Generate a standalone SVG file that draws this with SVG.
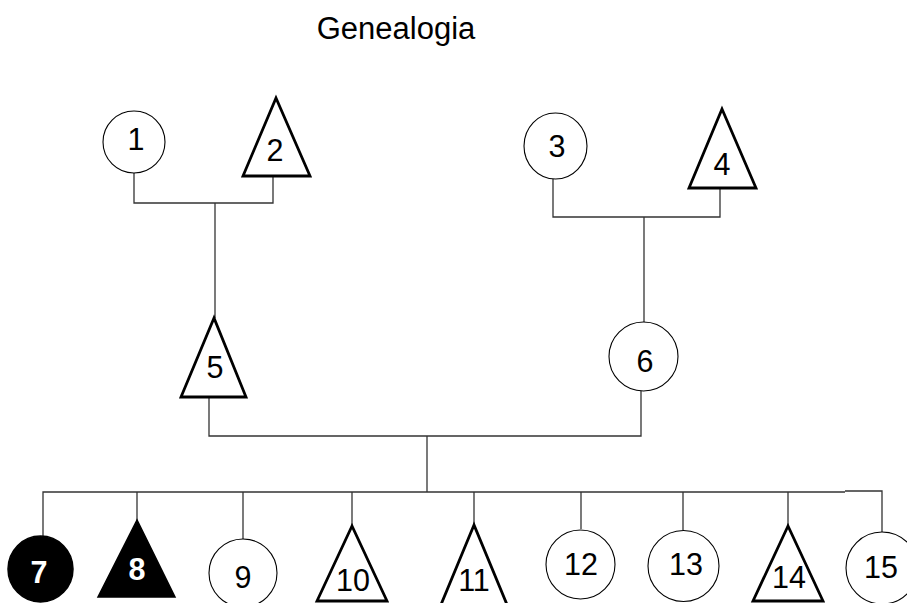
<svg xmlns="http://www.w3.org/2000/svg" width="907" height="603" viewBox="0 0 907 603">
<style>
.c{fill:#fff;stroke:#000;stroke-width:1.1}
.t{fill:#fff;stroke:#000;stroke-width:2.8;stroke-linejoin:miter}
.f{fill:#000;stroke:#000;stroke-width:1.5}
.lbl{font-family:"Liberation Sans",Arial,sans-serif;font-size:30.5px;fill:#000;text-anchor:middle}
.w{fill:#fff;font-weight:bold}
.conn path{fill:none;stroke:#333;stroke-width:1.3}
</style>
<rect width="907" height="603" fill="#fff"/>
<text x="396" y="39" class="lbl" style="font-size:31px">Genealogia</text>
<g class="conn">
<path d="M134,173 V203 H273 V176"/>
<path d="M215,203 V318"/>
<path d="M553,179 V217 H720 V188"/>
<path d="M644,217 V322"/>
<path d="M209,397 V436 H641 V391"/>
<path d="M427,436 V492"/>
<path d="M43,536 V492 H845"/>
<path d="M845,491 H882 V532"/>
<path d="M137,492 V520"/>
<path d="M243,492 V539"/>
<path d="M352,492 V526"/>
<path d="M474,492 V525"/>
<path d="M581,492 V529"/>
<path d="M683,492 V530"/>
<path d="M788,492 V526"/>
</g>
<g id="n1"><circle class="c" cx="134" cy="142" r="31"/><text class="lbl" x="136" y="150">1</text></g>
<g id="n2"><polygon class="t" points="276,98 243,176 310,176"/><text class="lbl" x="275" y="161">2</text></g>
<g id="n3"><ellipse class="c" cx="555.5" cy="146" rx="31.5" ry="33"/><text class="lbl" x="557" y="157">3</text></g>
<g id="n4"><polygon class="t" points="722,109 689,188 756,188"/><text class="lbl" x="722" y="175">4</text></g>
<g id="n5"><polygon class="t" points="214,318 181,397 246,397"/><text class="lbl" x="215" y="378">5</text></g>
<g id="n6"><circle class="c" cx="643.5" cy="356.5" r="34.5"/><text class="lbl" x="645" y="372">6</text></g>
<g id="n7"><ellipse class="f" cx="40.5" cy="569" rx="32.5" ry="33"/><text class="lbl w" x="39" y="583">7</text></g>
<g id="n8"><polygon class="f" points="137,520 98,597 175,597"/><text class="lbl w" x="137" y="580">8</text></g>
<g id="n9"><circle class="c" cx="243" cy="573" r="34"/><text class="lbl" x="243" y="588">9</text></g>
<g id="n10"><polygon class="t" points="352,526 317,601 387,601"/><text class="lbl" x="353" y="591">10</text></g>
<g id="n11"><polygon class="t" points="474,525 440,607 508,607"/><text class="lbl" x="474" y="591">11</text></g>
<g id="n12"><circle class="c" cx="580.5" cy="564.5" r="34.5"/><text class="lbl" x="581" y="575">12</text></g>
<g id="n13"><circle class="c" cx="683.5" cy="566" r="35.5"/><text class="lbl" x="686" y="575">13</text></g>
<g id="n14"><polygon class="t" points="788,526 753,601 823,601"/><text class="lbl" x="789" y="588">14</text></g>
<g id="n15"><circle class="c" cx="882" cy="568" r="36"/><text class="lbl" x="881" y="578">15</text></g>
</svg>
